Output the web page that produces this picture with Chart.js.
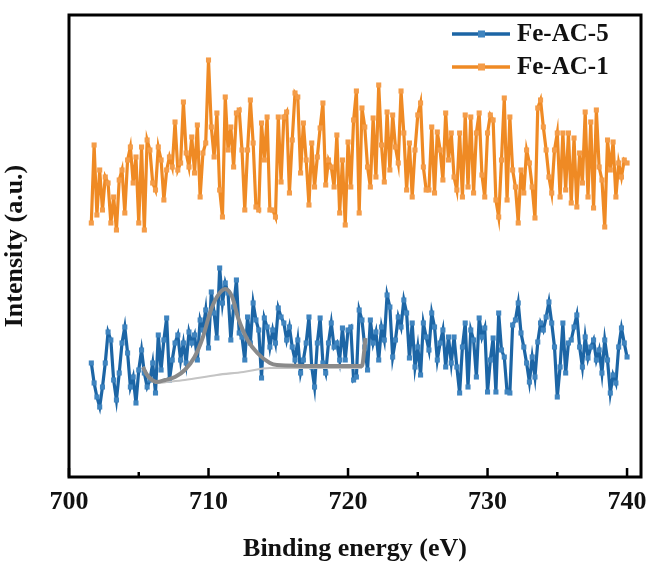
<!DOCTYPE html>
<html>
<head>
<meta charset="utf-8">
<script src="https://cdn.jsdelivr.net/npm/chart.js@4.4.0/dist/chart.umd.min.js"></script>
<style>
  html, body { margin: 0; padding: 0; background: #fff; }
  #wrap { width: 649px; height: 565px; }
</style>
</head>
<body>
<div id="wrap"><canvas id="xps" width="649" height="565"></canvas></div>
<script>
// energy grid of the scans (eV)
const energyStart = 701.6;
const energyStep = 0.2;

// x axis tick labels
const tickLabels = [700, 710, 720, 730, 740];
const minorTicks = [705, 715, 725, 735];

const seriesNames = ['Fe-AC-5', 'Fe-AC-1'];

// Fe-AC-5 intensity (a.u.)
const feAC5 = [
    114, 94, 80, 70, 90, 114, 145, 137, 97, 77, 104, 134, 150, 124, 90, 100, 74, 107, 127, 104,
    90, 97, 114, 84, 142, 107, 137, 159, 97, 117, 134, 142, 117, 134, 114, 145, 134, 142, 117, 157,
    147, 167, 129, 185, 164, 139, 209,
    174, 194, 184, 137, 170, 197, 144, 140, 117, 160, 134, 174, 157, 147, 99,
    159, 150, 130, 147, 134, 169, 160, 154, 137, 150, 130, 117, 137, 104, 117, 134, 160, 110, 90, 134,
    159, 114, 104, 134, 154, 130, 134, 117, 149, 117, 147, 150, 97, 100, 167, 157, 130, 107, 157, 134,
    145, 117, 150, 137, 182, 170, 120, 137, 160, 150, 177, 164, 119, 154, 110, 130, 102, 154, 140, 127,
    164, 150, 117, 134, 147, 110,
    140, 114, 140, 110, 84, 130, 154, 90, 147, 137, 100, 159, 140, 149, 85, 117, 139, 85, 164, 127,
    120, 85, 84, 152, 157, 174, 144, 130, 114, 95, 120, 100, 135, 154, 147, 160, 175, 154, 130, 80,
    110, 154, 104, 134, 137, 150, 162, 130, 110, 140, 119, 130, 137, 117, 127, 104, 137, 117, 84, 102,
    94, 130, 149, 134, 120
];

// Fe-AC-1 intensity (a.u.)
const feAC1 = [
    254, 332, 262, 307, 267, 300, 294, 254, 280, 247, 297, 307, 264, 317, 330, 294, 320, 254, 330, 247,
    337, 327, 294, 287, 330, 317, 277, 307, 320, 310, 355, 307, 314, 375, 324, 310, 340, 304, 352, 280,
    324, 334, 417,
    350, 320, 364, 287, 260, 380, 327, 350, 310, 364, 367, 327, 267, 327, 377, 334, 270, 267, 354, 317,
    360, 267,
    267, 260, 360, 295, 360, 365, 284, 337, 384, 380, 304, 354, 317, 272, 334, 290, 320, 349, 374, 292,
    317, 310, 290, 342, 264, 317, 252, 335, 290, 357, 386, 264, 369, 350, 310, 290, 359, 300, 392, 332,
    295, 365, 307, 362, 330, 314, 386, 344, 287, 334, 280, 327, 362, 374, 310, 287, 287, 350, 284, 345,
    327, 297, 364,
    317, 344, 300, 287, 344, 280, 362, 290, 360, 284, 344, 364, 302, 280, 344, 362, 357, 277, 260, 317,
    379, 277, 360, 307, 290, 254, 307, 284, 327, 314, 290, 259, 369, 377, 350, 327, 300, 284, 327, 344,
    280, 344, 287, 344, 274, 339, 270, 324, 294, 365, 280, 355, 269, 367, 310, 297, 250, 337, 307, 335,
    280, 314, 300, 317, 314
];

// peak fit on Fe-AC-5: envelope and background
const fitEnergy = [705.3, 705.6, 705.95, 706.3, 706.9, 707.6, 708.3, 709.0, 709.6, 710.1, 710.6,
    711.2, 711.7, 712.1, 712.8, 713.5, 714.4, 714.9, 718.0, 721.0, 721.15, 721.25];
const fitEnvelope = [110, 102, 97, 95, 97, 100, 107, 120, 140, 164, 180,
    188, 180, 160, 137, 124, 114, 112, 111, 111, 125, 139];
const bgEnergy = [705.3, 705.6, 706.3, 707.0, 708.3, 710.6, 712.5, 714.4, 716.0, 721.0];
const bgIntensity = [110, 103, 94, 95, 97, 102, 105, 109, 109, 109];

const BLUE = '#1c65a5';
const BLUE_PT = '#3f84bf';
const ORANGE = '#ef8a24';
const ORANGE_PT = '#f49c48';
const FONT = "'Liberation Serif', 'Times New Roman', serif";

const toPoints = (ys) => ys.map((y, i) => ({ x: +(energyStart + i * energyStep).toFixed(2), y }));
const pairs = (xs, ys) => xs.map((x, i) => ({ x, y: ys[i] }));

// frame with inward ticks and the legend, drawn by hand
const framePlugin = {
    id: 'frame',
    afterDatasetsDraw(chart) {
        const { ctx, chartArea: a } = chart;
        const xs = chart.scales.x;
        ctx.save();
        ctx.strokeStyle = '#000';
        ctx.lineWidth = 3;
        ctx.strokeRect(a.left, a.top, a.right - a.left, a.bottom - a.top);
        ctx.lineWidth = 2.5;
        tickLabels.forEach(v => {
            const px = xs.getPixelForValue(v);
            ctx.beginPath(); ctx.moveTo(px, a.bottom); ctx.lineTo(px, a.bottom - 9); ctx.stroke();
        });
        minorTicks.forEach(v => {
            const px = xs.getPixelForValue(v);
            ctx.beginPath(); ctx.moveTo(px, a.bottom); ctx.lineTo(px, a.bottom - 5); ctx.stroke();
        });

        // legend
        const items = [[seriesNames[0], BLUE, BLUE_PT, 34], [seriesNames[1], ORANGE, ORANGE_PT, 67]];
        items.forEach(([name, col, pt, y]) => {
            ctx.strokeStyle = col;
            ctx.lineWidth = 3.5;
            ctx.beginPath(); ctx.moveTo(452, y); ctx.lineTo(510, y); ctx.stroke();
            ctx.fillStyle = pt;
            ctx.fillRect(478, y - 3.5, 7, 7);
            ctx.fillStyle = '#111';
            ctx.font = 'bold 25px ' + FONT;
            ctx.textBaseline = 'middle';
            ctx.textAlign = 'left';
            ctx.fillText(name, 517, y + 1);
        });
        ctx.restore();
    }
};

new Chart(document.getElementById('xps'), {
    type: 'line',
    data: {
        datasets: [
            {
                label: 'Envelope',
                data: pairs(fitEnergy, fitEnvelope),
                borderColor: '#8a8a8a',
                borderWidth: 4,
                pointRadius: 0,
                cubicInterpolationMode: 'monotone'
            },
            {
                label: 'Background',
                data: pairs(bgEnergy, bgIntensity),
                borderColor: '#c4c4c4',
                borderWidth: 2.2,
                pointRadius: 0,
                cubicInterpolationMode: 'monotone'
            },
            {
                label: seriesNames[0],
                data: toPoints(feAC5),
                borderColor: BLUE,
                borderWidth: 3.2,
                pointStyle: 'rect',
                pointRadius: 3.6,
                pointBorderWidth: 0,
                pointBackgroundColor: BLUE_PT,
                tension: 0
            },
            {
                label: seriesNames[1],
                data: toPoints(feAC1),
                borderColor: ORANGE,
                borderWidth: 3.2,
                pointStyle: 'rect',
                pointRadius: 3.6,
                pointBorderWidth: 0,
                pointBackgroundColor: ORANGE_PT,
                tension: 0
            }
        ]
    },
    options: {
        responsive: false,
        animation: false,
        layout: { padding: { top: 15, right: 8, left: 0, bottom: 0 } },
        plugins: { legend: { display: false }, tooltip: { enabled: false } },
        scales: {
            x: {
                type: 'linear',
                min: 700,
                max: 741.0,
                afterBuildTicks: (scale) => { scale.ticks = tickLabels.map(v => ({ value: v })); },
                afterFit: (scale) => { scale.height = 88; scale.paddingLeft = 0; scale.paddingRight = 0; },
                grid: { display: false, drawTicks: false },
                border: { display: false },
                ticks: {
                    color: '#111',
                    padding: 10,
                    maxRotation: 0,
                    font: { family: FONT, size: 26, weight: 'bold' }
                },
                title: {
                    display: true,
                    text: 'Binding energy (eV)',
                    color: '#111',
                    padding: { top: 12, bottom: 0 },
                    font: { family: FONT, size: 26, weight: 'bold' }
                }
            },
            y: {
                min: 0,
                max: 462,
                afterFit: (scale) => { scale.width = 69; },
                grid: { display: false, drawTicks: false },
                border: { display: false },
                ticks: { display: false },
                title: {
                    display: true,
                    text: 'Intensity (a.u.)',
                    color: '#111',
                    padding: { top: 0, bottom: 12 },
                    font: { family: FONT, size: 26, weight: 'bold' }
                }
            }
        }
    },
    plugins: [framePlugin]
});
</script>
</body>
</html>
